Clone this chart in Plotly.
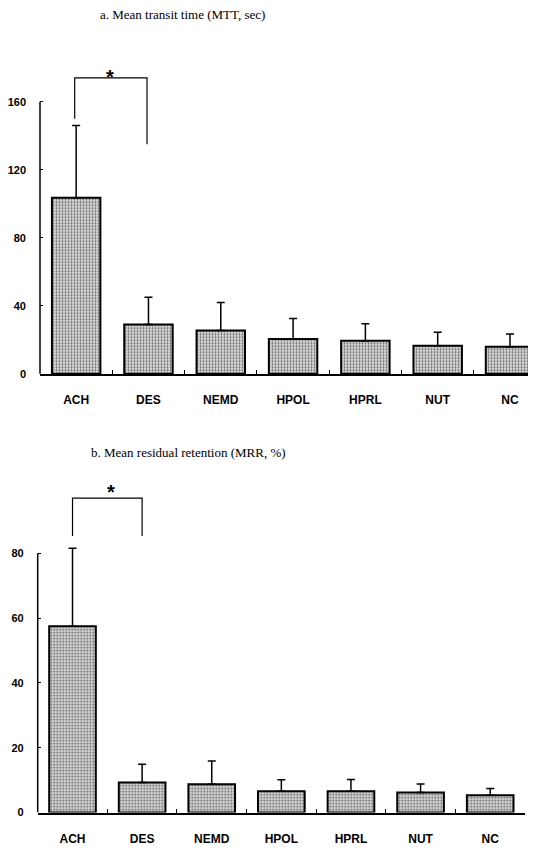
import plotly.graph_objects as go

categories = ["ACH", "DES", "NEMD", "HPOL", "HPRL", "NUT", "NC"]
mtt_mean = [103.5, 29, 25.5, 20.5, 19.5, 16.5, 16]
mtt_sd = [42.5, 16, 16.5, 12, 10, 8, 7.5]
mrr_mean = [57.5, 9.3, 8.7, 6.6, 6.6, 6.2, 5.3]
mrr_sd = [24, 5.6, 7.2, 3.5, 3.6, 2.6, 2.1]
mtt_ticks = [0, 40, 80, 120, 160]
mrr_ticks = [0, 20, 40, 60, 80]
title_a = "a. Mean transit time (MTT, sec)"
title_b = "b. Mean residual retention (MRR, %)"

# page body has an 8px margin; work in window pixels and convert
OX, OY = 8, 8
W, H = 536 - OX, 851 - OY


def px_x(p):
    return (p - OX) / W


def px_y(p):
    return 1 - (p - OY) / H


def bar_trace(vals, sd, xa, ya):
    return go.Bar(
        x=categories, y=vals, xaxis=xa, yaxis=ya, width=0.67,
        marker=dict(
            color="#d2d2d2",
            line=dict(color="black", width=2),
            pattern=dict(shape=".", fgcolor="#5e5e5e", bgcolor="#d8d8d8",
                         size=3, solidity=0.3, fillmode="replace"),
        ),
        error_y=dict(type="data", array=sd, arrayminus=[0] * len(sd), symmetric=False,
                     color="black", thickness=1.5, width=4),
        showlegend=False,
    )


fig = go.Figure()
fig.add_trace(bar_trace(mtt_mean, mtt_sd, "x", "y"))
fig.add_trace(bar_trace(mrr_mean, mrr_sd, "x2", "y2"))

tickfont = dict(family="Liberation Sans, Arial, sans-serif", size=11, color="black", weight="bold")
xfont = dict(family="Liberation Sans, Arial, sans-serif", size=12, color="black", weight="bold")

common_x = dict(type="category", showline=True, linecolor="black", linewidth=1.5,
                ticks="inside", tickson="boundaries", ticklen=4, tickcolor="black",
                showgrid=False, zeroline=False, tickfont=xfont, ticklabelstandoff=14,
                fixedrange=True)
common_y = dict(showline=False, ticks="inside", ticklen=3, tickcolor="black", tickwidth=1,
                showgrid=False, zeroline=False, tickfont=tickfont, ticklabelstandoff=13)

fig.update_layout(
    width=W, height=H,
    margin=dict(l=0, r=0, t=0, b=0),
    paper_bgcolor="white", plot_bgcolor="white",
    xaxis=dict(common_x, domain=[px_x(40), 1.0], range=[-0.5, 6.5 - 10 / 71.2], anchor="y"),
    yaxis=dict(common_y, domain=[px_y(376.5), px_y(51)], range=[0, 190],
               tickvals=mtt_ticks, anchor="x"),
    xaxis2=dict(common_x, domain=[px_x(37.7), px_x(525)], range=[-0.5, 6.5], anchor="y2"),
    yaxis2=dict(common_y, domain=[px_y(818.3), px_y(475.5)], range=[0, 105],
                tickvals=mrr_ticks, anchor="x2"),
)

# y axis lines (only up to the top tick)
fig.add_shape(type="line", xref="x domain", yref="y", x0=0, x1=0, y0=0, y1=mtt_ticks[-1],
              line=dict(color="black", width=1.5))
fig.add_shape(type="line", xref="x2 domain", yref="y2", x0=0, x1=0, y0=0, y1=mrr_ticks[-1],
              line=dict(color="black", width=1.5))

# significance brackets
fig.add_shape(type="path", xref="x", yref="y",
              path="M -0.02,150 L -0.02,174 L 0.98,174 L 0.98,135",
              line=dict(color="black", width=1.2))
fig.add_shape(type="path", xref="x2", yref="y2",
              path="M 0,85.3 L 0,97 L 1,97 L 1,85.3",
              line=dict(color="black", width=1.2))

starfont = dict(family="Liberation Sans, Arial, sans-serif", size=20, color="black", weight="bold")
fig.add_annotation(x=0.47, y=177.5, xref="x", yref="y", text="*", showarrow=False,
                   font=starfont, yanchor="middle", yshift=-5)
fig.add_annotation(x=0.55, y=100.5, xref="x2", yref="y2", text="*", showarrow=False,
                   font=starfont, yanchor="middle", yshift=-5)

titlefont = dict(family="Liberation Serif, Times New Roman, serif", size=13, color="black")
fig.add_annotation(x=px_x(182.5), y=px_y(15), xref="paper", yref="paper", text=title_a,
                   showarrow=False, font=titlefont, xanchor="center", yanchor="middle")
fig.add_annotation(x=px_x(188), y=px_y(456), xref="paper", yref="paper", text=title_b,
                   showarrow=False, font=titlefont, xanchor="center", yanchor="middle")

fig.write_html("out.html")
